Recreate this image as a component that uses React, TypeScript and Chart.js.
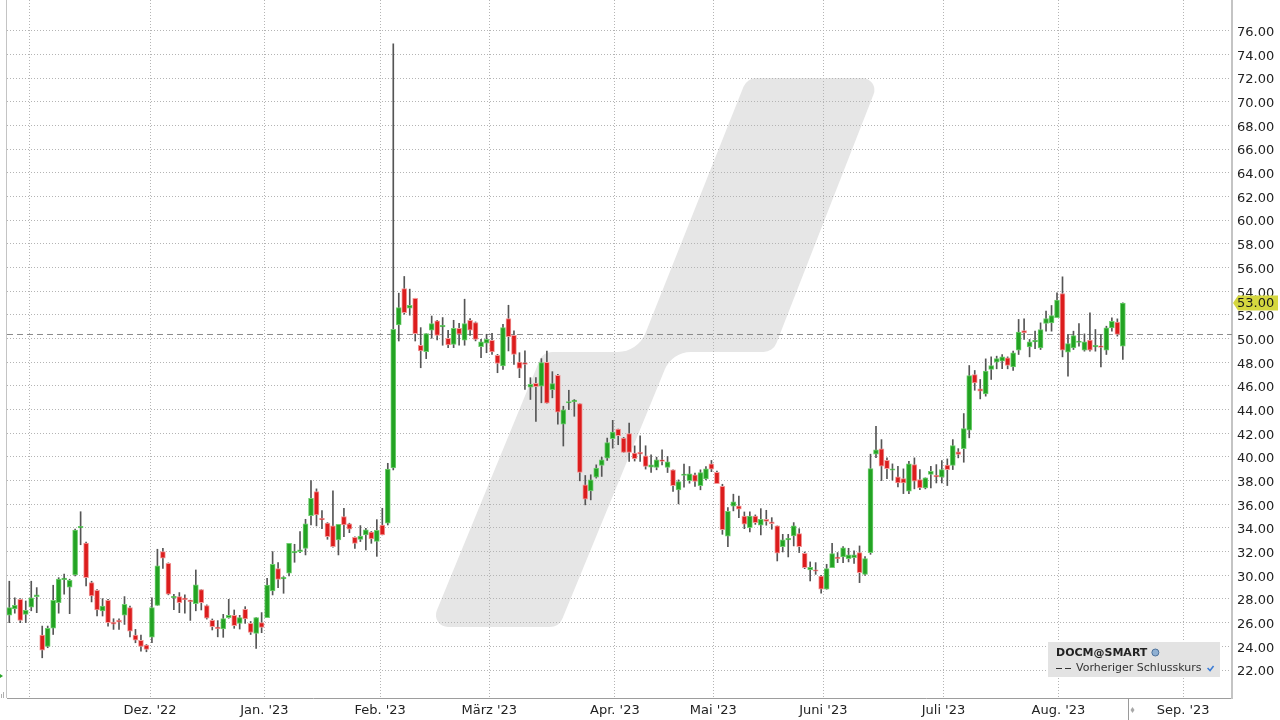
import { useEffect, useRef } from 'react';
import { Chart, registerables } from 'chart.js';

Chart.register(...registerables);

// ---- Data (daily OHLC, trading days) ----
const opens = [
  26.64, 27.15, 27.97, 26.70, 27.30, 28.20, 24.95, 24.00, 25.54, 27.69,
  29.64, 29.00, 30.03, 34.00, 32.72, 29.38, 28.73, 26.98, 27.89, 26.05,
  26.22, 26.64, 27.27, 24.95, 24.50, 24.10, 24.78, 27.46, 32.00, 31.00,
  28.10, 28.20, 28.05, 27.90, 27.60, 28.79, 27.44, 26.20, 25.58, 25.46,
  26.42, 26.62, 25.94, 27.13, 25.94, 25.10, 26.00, 26.42, 28.68, 30.56,
  29.70, 30.17, 31.89, 32.00, 32.28, 35.04, 37.07, 34.82, 34.40, 34.17,
  32.99, 34.96, 34.34, 33.21, 33.04, 33.41, 33.65, 32.86, 34.25, 34.40,
  39.07, 51.15, 54.22, 52.56, 53.40, 49.43, 48.89, 50.70, 51.49, 50.98,
  50.02, 49.51, 50.86, 49.85, 51.54, 51.34, 49.31, 49.60, 49.85, 48.58,
  47.68, 51.68, 50.27, 48.01, 47.93, 45.90, 46.21, 45.98, 47.98, 45.68,
  46.88, 42.77, 44.55, 44.67, 44.50, 37.64, 37.13, 38.29, 39.28, 39.90,
  41.54, 42.35, 41.59, 41.96, 40.32, 40.41, 40.10, 39.14, 39.11, 39.76,
  39.11, 38.91, 37.22, 38.43, 38.00, 38.49, 37.56, 38.15, 39.42, 38.70,
  37.52, 33.30, 35.83, 35.86, 35.01, 34.03, 35.01, 34.23, 34.73, 34.51,
  34.17, 32.42, 32.99, 33.32, 33.52, 31.86, 30.45, 30.45, 29.94, 28.82,
  30.65, 31.49, 31.55, 31.41, 31.49, 31.92, 30.08, 31.92, 40.24, 40.68,
  39.72, 38.87, 38.31, 38.17, 37.10, 39.35, 38.08, 37.38, 38.51, 38.42,
  38.28, 39.30, 39.27, 40.42, 40.70, 42.25, 46.96, 45.75, 45.32, 47.38,
  48.00, 48.08, 48.37, 47.61, 49.01, 50.68, 49.30, 49.72, 49.21, 51.27,
  51.32, 51.75, 53.80, 48.85, 49.21, 49.66, 49.01, 49.86, 49.30, 49.38,
  49.01, 50.90, 51.38, 49.35,
];
const highs = [
  29.50, 28.10, 28.03, 27.83, 29.50, 28.96, 25.71, 25.71, 29.16, 29.80,
  30.10, 29.67, 33.90, 35.37, 32.80, 29.50, 28.80, 28.03, 27.97, 26.33,
  26.33, 28.20, 27.40, 25.43, 24.95, 24.15, 28.10, 32.20, 32.27, 31.05,
  28.40, 28.54, 28.34, 27.90, 30.45, 28.79, 27.50, 26.31, 26.17, 26.70,
  27.97, 27.07, 26.62, 27.35, 26.10, 26.42, 26.85, 29.75, 32.00, 31.07,
  29.89, 32.70, 32.62, 33.69, 34.73, 38.00, 37.30, 35.46, 34.45, 37.13,
  34.30, 35.66, 34.40, 33.25, 34.20, 33.97, 33.70, 34.70, 35.66, 39.46,
  74.90, 53.83, 55.24, 54.17, 53.40, 50.92, 50.41, 51.90, 51.54, 51.77,
  50.70, 51.54, 51.29, 53.32, 51.68, 51.40, 49.93, 50.36, 50.44, 48.66,
  51.20, 52.81, 50.64, 48.80, 48.95, 46.69, 46.69, 48.30, 48.94, 47.20,
  46.97, 44.28, 45.63, 44.84, 44.50, 38.43, 38.49, 39.33, 39.98, 41.59,
  43.09, 42.35, 41.65, 42.86, 40.93, 41.79, 40.94, 40.18, 39.98, 40.60,
  40.04, 38.91, 38.06, 39.39, 39.19, 38.63, 38.91, 39.19, 39.70, 38.80,
  37.69, 35.72, 36.85, 36.70, 35.35, 35.35, 35.10, 35.63, 35.49, 34.87,
  34.17, 33.46, 33.46, 34.45, 33.94, 31.97, 31.13, 31.07, 30.00, 30.93,
  32.70, 31.92, 32.42, 32.28, 32.06, 32.48, 31.58, 40.23, 42.59, 41.46,
  39.92, 39.41, 39.21, 38.99, 39.63, 39.92, 38.93, 38.23, 39.21, 39.35,
  39.69, 39.83, 41.46, 40.70, 43.66, 47.72, 47.30, 46.54, 48.28, 48.45,
  48.51, 48.65, 48.45, 48.93, 51.61, 51.66, 49.92, 50.62, 51.32, 52.31,
  52.79, 53.86, 55.21, 50.34, 50.62, 51.27, 50.39, 52.17, 50.76, 50.34,
  51.04, 51.75, 51.66, 53.01,
];
const lows = [
  26.00, 26.80, 26.00, 26.00, 27.00, 26.84, 23.03, 23.88, 25.00, 26.80,
  28.40, 26.76, 29.95, 32.58, 29.10, 27.75, 26.56, 26.56, 25.71, 25.43,
  25.43, 25.85, 24.80, 24.30, 23.60, 23.54, 24.30, 27.46, 30.57, 28.35,
  27.10, 26.84, 26.80, 26.19, 27.00, 27.07, 26.30, 25.38, 24.80, 24.76,
  26.37, 25.52, 25.46, 25.94, 25.00, 23.83, 25.15, 26.42, 28.34, 28.96,
  28.48, 29.94, 31.10, 31.92, 31.72, 34.25, 34.17, 33.94, 33.04, 32.37,
  31.72, 33.27, 33.60, 32.28, 32.85, 32.14, 32.70, 31.60, 33.41, 34.25,
  38.90, 49.79, 52.05, 51.97, 49.79, 47.53, 48.30, 50.02, 49.88, 49.43,
  49.23, 49.23, 49.43, 49.43, 50.27, 49.80, 48.38, 48.80, 48.66, 47.11,
  47.39, 48.95, 47.82, 46.69, 45.70, 44.85, 43.00, 44.57, 44.53, 44.99,
  42.76, 40.92, 43.99, 43.43, 37.98, 35.95, 36.37, 38.21, 38.35, 39.70,
  40.74, 41.03, 40.38, 39.62, 39.65, 39.62, 38.97, 38.68, 38.91, 39.33,
  38.68, 37.08, 36.03, 37.44, 37.78, 37.50, 37.22, 38.06, 38.75, 37.74,
  33.46, 32.42, 35.44, 34.87, 33.94, 33.66, 34.30, 33.41, 34.23, 33.89,
  31.21, 31.97, 31.55, 32.48, 31.92, 30.56, 29.52, 30.08, 28.48, 28.82,
  30.65, 31.07, 31.07, 31.13, 31.01, 29.38, 29.99, 31.77, 39.93, 38.00,
  38.17, 38.03, 37.46, 36.90, 36.90, 37.30, 37.24, 37.30, 37.38, 37.80,
  37.80, 37.58, 38.93, 39.92, 39.55, 41.61, 45.63, 44.90, 45.13, 46.54,
  47.44, 47.46, 47.44, 47.30, 48.65, 49.92, 48.45, 49.15, 49.07, 50.62,
  50.62, 51.75, 48.45, 46.82, 49.07, 49.35, 48.93, 48.93, 48.93, 47.61,
  48.65, 50.62, 50.20, 48.23,
];
const closes = [
  27.27, 27.46, 26.19, 27.04, 28.10, 28.34, 23.68, 25.51, 27.89, 29.67,
  29.72, 29.58, 33.82, 34.10, 29.80, 28.25, 27.07, 27.40, 26.00, 25.88,
  26.05, 27.55, 25.29, 24.53, 24.00, 23.73, 27.27, 30.80, 31.45, 28.40,
  28.20, 27.69, 27.95, 27.77, 29.20, 27.69, 26.37, 25.66, 25.50, 26.34,
  26.62, 25.75, 26.42, 26.31, 25.18, 26.42, 25.60, 29.18, 30.93, 29.66,
  29.80, 32.70, 31.94, 32.14, 34.34, 36.50, 35.10, 34.68, 33.27, 32.42,
  34.30, 34.25, 33.89, 32.70, 33.32, 33.83, 33.08, 33.80, 33.41, 38.97,
  50.78, 52.61, 52.19, 52.81, 50.41, 48.95, 50.41, 51.26, 50.27, 51.12,
  49.45, 50.86, 50.36, 51.26, 50.70, 49.93, 49.71, 49.93, 48.86, 47.90,
  50.92, 50.16, 48.66, 47.48, 47.82, 46.12, 45.93, 47.96, 44.53, 46.20,
  43.77, 43.97, 44.61, 44.75, 38.68, 36.43, 38.06, 39.05, 39.76, 41.22,
  42.10, 41.79, 40.38, 40.38, 39.84, 40.24, 39.19, 39.33, 39.76, 39.62,
  39.59, 37.56, 37.92, 38.52, 38.57, 37.92, 38.68, 38.99, 38.97, 37.74,
  33.86, 35.41, 36.20, 35.58, 34.31, 35.01, 34.45, 34.73, 34.54, 34.37,
  31.86, 32.99, 33.04, 34.17, 32.42, 30.65, 30.68, 30.34, 28.82, 30.56,
  31.83, 31.41, 32.31, 31.72, 31.72, 30.23, 31.41, 39.01, 40.60, 39.21,
  39.01, 38.96, 37.80, 37.80, 39.41, 37.94, 37.38, 38.23, 38.79, 38.31,
  38.93, 38.93, 40.96, 40.20, 42.39, 46.87, 46.25, 45.55, 47.24, 47.72,
  48.31, 48.45, 47.72, 48.79, 50.54, 50.48, 49.72, 49.83, 50.76, 51.69,
  51.94, 53.24, 49.01, 49.58, 50.25, 49.72, 49.72, 49.01, 49.38, 49.24,
  50.90, 51.46, 50.34, 53.00,
];

// month grid positions (in trading-day index units) and their labels
const monthTickPositions = [3.65, 25.65, 46.5, 67.6, 87.5, 110.4, 128.35, 148.4, 170.3, 191.25, 214.0];
const monthTickLabels = ['', "Dez. '22", "Jan. '23", "Feb. '23", "März '23", "Apr. '23", "Mai '23", "Juni '23", "Juli '23", "Aug. '23", "Sep. '23"];
const priceTicks = [22, 24, 26, 28, 30, 32, 34, 36, 38, 40, 42, 44, 46, 48, 50, 52, 54, 56, 58, 60, 62, 64, 66, 68, 70, 72, 74, 76];
const previousClose = 50.34;
const instrumentName = 'DOCM@SMART';
const legendLabel = 'Vorheriger Schlusskurs';

const X_MIN = -0.42;
const X_MAX = 222.9;
const Y_MIN = 19.635;
const Y_MAX = 78.593;
const FONT = '"DejaVu Sans", Verdana, sans-serif';

function traceWatermark(ctx: CanvasRenderingContext2D) {
  const pts: [number, number, number][] = [
    [430, 627, 12],
    [543, 352, 14],
    [638, 352, 30],
    [747, 78, 14],
    [880, 78, 12],
    [773, 352, 14],
    [672, 352, 28],
    [559, 627, 14],
  ];
  const n = pts.length;
  const sx = (pts[n - 1][0] + pts[0][0]) / 2;
  const sy = (pts[n - 1][1] + pts[0][1]) / 2;
  ctx.beginPath();
  ctx.moveTo(sx, sy);
  for (let i = 0; i < n; i++) {
    const p = pts[i];
    const q = pts[(i + 1) % n];
    ctx.arcTo(p[0], p[1], q[0], q[1], p[2]);
  }
  ctx.closePath();
}

const decorPlugin = {
  id: 'decor',
  beforeDraw(chart: any) {
    const { ctx } = chart;
    ctx.save();
    ctx.fillStyle = '#ffffff';
    ctx.fillRect(0, 0, chart.width, chart.height);
    traceWatermark(ctx);
    ctx.fillStyle = '#e6e6e6';
    ctx.fill();
    ctx.restore();
  },
  afterDraw(chart: any) {
    const { ctx, chartArea, scales } = chart;
    const xs = scales.x;
    const ys = scales.y;
    ctx.save();
    // left frame line
    ctx.strokeStyle = '#c4c4c4';
    ctx.lineWidth = 1;
    ctx.beginPath();
    ctx.moveTo(chartArea.left - 0.5, 0);
    ctx.lineTo(chartArea.left - 0.5, chartArea.bottom);
    ctx.stroke();

    // tiny toolbar marks at the bottom-left corner
    ctx.fillStyle = '#2aa52a';
    ctx.beginPath();
    ctx.moveTo(0, 674);
    ctx.lineTo(3, 676);
    ctx.lineTo(0, 678);
    ctx.closePath();
    ctx.fill();
    ctx.fillStyle = '#b0b0b0';
    ctx.fillRect(1, 694, 1, 4);
    ctx.fillRect(3, 692, 1, 6);

    // separator in the time axis after the last trading day
    const sepX = Math.round(xs.getPixelForValue(closes.length)) + 0.5;
    ctx.strokeStyle = '#9a9a9a';
    ctx.beginPath();
    ctx.moveTo(sepX, chartArea.bottom);
    ctx.lineTo(sepX, chart.height);
    ctx.stroke();
    ctx.fillStyle = '#a8a8a8';
    ctx.beginPath();
    ctx.moveTo(sepX + 4, 707);
    ctx.lineTo(sepX + 6, 710);
    ctx.lineTo(sepX + 4, 713);
    ctx.lineTo(sepX + 2, 710);
    ctx.closePath();
    ctx.fill();

    // last price tag
    const last = closes[closes.length - 1];
    const py = ys.getPixelForValue(last);
    const tx = chartArea.right + 1;
    ctx.fillStyle = '#d5d73f';
    ctx.beginPath();
    ctx.moveTo(tx, py);
    ctx.lineTo(tx + 5, py - 7.5);
    ctx.lineTo(1278, py - 7.5);
    ctx.lineTo(1278, py + 7.5);
    ctx.lineTo(tx + 5, py + 7.5);
    ctx.closePath();
    ctx.fill();
    ctx.fillStyle = '#1a1a1a';
    ctx.font = '13px ' + FONT;
    ctx.textAlign = 'left';
    ctx.textBaseline = 'middle';
    ctx.fillText(last.toFixed(2), 1237, py + 1);

    // legend box
    ctx.fillStyle = '#e3e3e3';
    ctx.fillRect(1048, 642, 172, 35);
    ctx.fillStyle = '#222';
    ctx.font = 'bold 11px ' + FONT;
    ctx.fillText(instrumentName, 1056, 653);
    const nameW = ctx.measureText(instrumentName).width;
    ctx.beginPath();
    ctx.arc(1056 + nameW + 8, 652.5, 3.5, 0, Math.PI * 2);
    ctx.fillStyle = '#8fb0d3';
    ctx.fill();
    ctx.strokeStyle = '#4f739c';
    ctx.lineWidth = 1;
    ctx.stroke();

    ctx.strokeStyle = '#333';
    ctx.lineWidth = 1;
    ctx.beginPath();
    ctx.moveTo(1056, 668.5);
    ctx.lineTo(1062, 668.5);
    ctx.moveTo(1065, 668.5);
    ctx.lineTo(1071, 668.5);
    ctx.stroke();
    ctx.fillStyle = '#333';
    ctx.font = '11px ' + FONT;
    ctx.fillText(legendLabel, 1076, 668.5);
    const lw = ctx.measureText(legendLabel).width;
    const cx = 1076 + lw + 6;
    ctx.strokeStyle = '#3a7bd5';
    ctx.lineWidth = 1.5;
    ctx.beginPath();
    ctx.moveTo(cx, 668);
    ctx.lineTo(cx + 2.5, 670.5);
    ctx.lineTo(cx + 6, 666);
    ctx.stroke();
    ctx.restore();
  },
};

export default function App() {
  const canvasRef = useRef<HTMLCanvasElement | null>(null);

  useEffect(() => {
    const canvas = canvasRef.current;
    if (!canvas) return;
    const up = closes.map((c, i) => c >= opens[i]);
    const bodyData = closes.map((c, i) => ({ x: i, y: [opens[i], c] }));
    const wickData = closes.map((_, i) => ({ x: i, y: [lows[i], highs[i]] }));

    const chart = new Chart(canvas, {
      type: 'bar',
      data: {
        datasets: [
          {
            type: 'bar',
            data: bodyData as any,
            backgroundColor: up.map((u) => (u ? '#23a323' : '#dc1d1d')),
            borderColor: up.map((u) => (u ? '#6fcf6f' : '#f29a9a')),
            borderWidth: 1,
            borderSkipped: false,
            barThickness: 5,
            maxBarThickness: 5,
            minBarLength: 1.5,
            grouped: false,
            order: 0,
          } as any,
          {
            type: 'bar',
            data: wickData as any,
            backgroundColor: '#555555',
            borderWidth: 0,
            barThickness: 1,
            maxBarThickness: 1,
            grouped: false,
            order: 1,
          } as any,
          {
            type: 'line',
            data: [
              { x: X_MIN, y: previousClose },
              { x: X_MAX, y: previousClose },
            ] as any,
            borderColor: '#8a8a8a',
            borderWidth: 1,
            borderDash: [6, 4],
            pointRadius: 0,
            fill: false,
            order: 2,
          } as any,
        ],
      },
      options: {
        responsive: false,
        animation: false,
        events: [],
        layout: { padding: { left: 7, top: 0, right: 0, bottom: 0 } },
        plugins: {
          legend: { display: false },
          tooltip: { enabled: false },
          title: { display: false },
        },
        scales: {
          x: {
            type: 'linear',
            position: 'bottom',
            min: X_MIN,
            max: X_MAX,
            offset: false,
            afterBuildTicks: (s: any) => {
              s.ticks = monthTickPositions.map((v) => ({ value: v }));
            },
            afterFit: (s: any) => {
              s.height = 22;
              s.paddingLeft = 0;
              s.paddingRight = 0;
            },
            grid: { offset: false, color: '#b4b4b4', lineWidth: 1, drawTicks: false },
            border: { display: true, color: '#9d9d9d', width: 1, dash: [1, 2] },
            ticks: {
              autoSkip: false,
              maxRotation: 0,
              minRotation: 0,
              padding: 5,
              color: '#222',
              font: { family: FONT, size: 13 },
              callback: (v: any) => {
                const idx = monthTickPositions.indexOf(Number(v));
                return idx >= 0 ? monthTickLabels[idx] : '';
              },
            },
          },
          y: {
            type: 'linear',
            position: 'right',
            min: Y_MIN,
            max: Y_MAX,
            afterBuildTicks: (s: any) => {
              s.ticks = priceTicks.map((v) => ({ value: v }));
            },
            afterFit: (s: any) => {
              s.width = 48;
              s.paddingTop = 0;
              s.paddingBottom = 0;
            },
            grid: { color: '#b4b4b4', lineWidth: 1, drawTicks: false },
            border: { display: true, color: '#c4c4c4', width: 2, dash: [1, 2] },
            ticks: {
              padding: 5,
              labelOffset: 2,
              color: '#222',
              font: { family: FONT, size: 13 },
              callback: (v: any) => Number(v).toFixed(2),
            },
          },
        },
      } as any,
      plugins: [decorPlugin],
    });

    return () => {
      chart.destroy();
    };
  }, []);

  return (
    <div style={{ position: 'fixed', left: 0, top: 0, width: 1280, height: 720, background: '#fff' }}>
      <canvas ref={canvasRef} width={1280} height={720} style={{ display: 'block' }} />
    </div>
  );
}
